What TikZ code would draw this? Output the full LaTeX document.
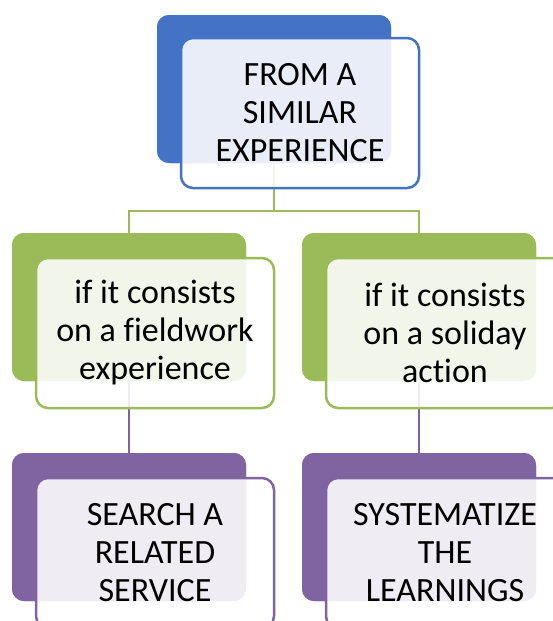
\documentclass[tikz,border=0pt]{standalone}
\usepackage{fontspec}
\setmainfont[Ligatures=NoCommon]{Carlito}
\definecolor{cblue}{HTML}{4472C4}
\definecolor{cgreen}{HTML}{9BBB59}
\definecolor{cpurple}{HTML}{8064A2}
\begin{document}
\begin{tikzpicture}[x=1pt,y=-1pt,
  backbox/.style={rectangle, rounded corners=12pt, draw=none, fill=#1,
    minimum width=234pt, minimum height=148pt, inner sep=0pt},
  frontbox/.style={rectangle, rounded corners=12pt, draw=#1, line width=2.5pt,
    fill=white, fill opacity=0.88, text opacity=1,
    minimum width=238pt, minimum height=150pt, inner sep=0pt, align=center,
    font=\fontsize{34}{38}\selectfont},
  conn/.style={draw=#1, line width=2.5pt}]
\clip (0,0) rectangle (553,621);
\fill[white] (0,0) rectangle (553,621);
% back boxes
\node[backbox=cblue] (b0) at (274,89) {};
\node[backbox=cgreen] (b1) at (129,307) {};
\node[backbox=cgreen] (b2) at (419,307) {};
\node[backbox=cpurple] (p1) at (129,527) {};
\node[backbox=cpurple] (p2) at (419,527) {};
% connectors
\coordinate (h) at (274,211);
\draw[conn=cgreen] (b0.south) -- (h) -| (b1.north);
\draw[conn=cgreen] (h) -| (b2.north);
\draw[conn=cpurple] (b1.south) -- (p1.north);
\draw[conn=cpurple] (b2.south) -- (p2.north);
% redraw back boxes over connector ends
\node[backbox=cblue] at (b0) {};
\node[backbox=cgreen] at (b1) {};
\node[backbox=cgreen] at (b2) {};
\node[backbox=cpurple] at (p1) {};
\node[backbox=cpurple] at (p2) {};
% front boxes
\node[frontbox=cblue] (f0) at (300,113) {FROM A\\SIMILAR\\EXPERIENCE};
\node[frontbox=cgreen] (f1) at (155,333) {if it consists\\on a fieldwork\\experience};
\node[frontbox=cgreen] (f2) at (445,333) {if it consists\\on a soliday\\action};
\node[frontbox=cpurple] (q1) at (155,553) {SEARCH A\\RELATED\\SERVICE};
\node[frontbox=cpurple] (q2) at (445,553) {SYSTEMATIZE\\THE\\LEARNINGS};
\end{tikzpicture}
\end{document}
